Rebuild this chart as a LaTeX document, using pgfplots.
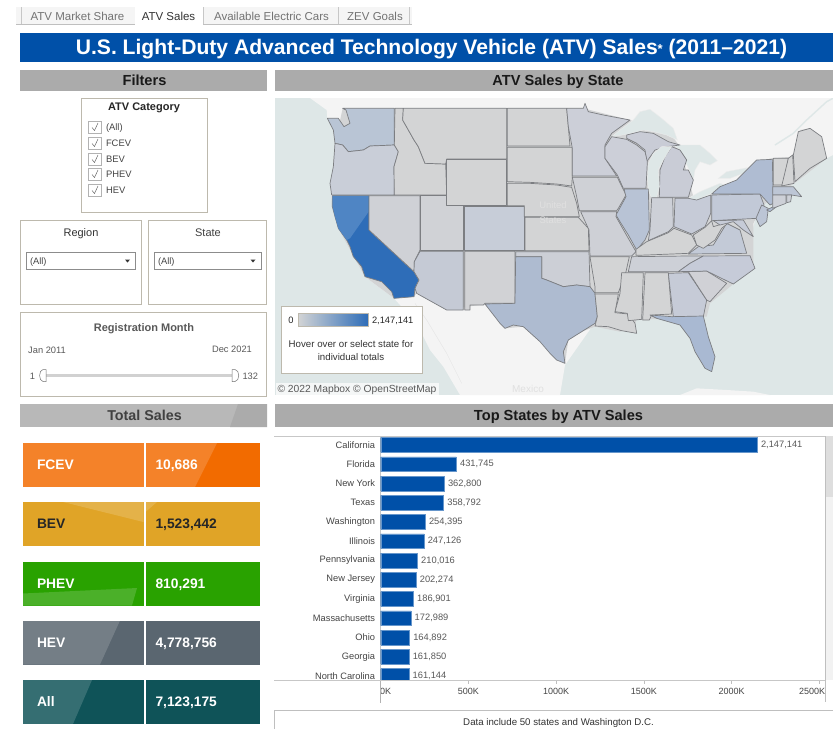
\documentclass[border=0pt]{standalone}
\usepackage{fontspec}
\setmainfont{Liberation Sans}
\usepackage{pgfplots}
\usepackage{pgfplotstable}
\pgfplotsset{compat=1.18}

\definecolor{water}{HTML}{DEE7E7}
\definecolor{land}{HTML}{F4F4F4}
\definecolor{edge}{HTML}{7C7E82}
\definecolor{base}{HTML}{D3D4D5}
\definecolor{blueend}{HTML}{2E6DB8}
\definecolor{titleblue}{HTML}{0050A8}
\definecolor{hdr}{HTML}{ABABAB}
\definecolor{boxline}{HTML}{BDB9AD}
\definecolor{txt}{HTML}{444444}

\newcommand{\fs}[1]{\fontsize{#1}{#1}\selectfont}

\pgfplotsset{
  mapaxis/.style={hide axis, scale only axis, width=558pt, height=297pt,
    at={(275pt,-98pt)}, anchor=north west, y dir=reverse, ymin=24, ymax=915},
  st/.style={/utils/exec={\definecolor{c#1}{HTML}{#1}}, fill=c#1, draw=edge, line width=0.7pt, line join=round, mark=none},
  lake/.style={fill=water, draw=white!85!gray, line width=0.4pt, mark=none},
}

\pgfplotstableread{
idx sales lab
0 2147141 2,147,141
1 431745 431,745
2 362800 362,800
3 358792 358,792
4 254395 254,395
5 247126 247,126
6 210016 210,016
7 202274 202,274
8 186901 186,901
9 172989 172,989
10 164892 164,892
11 161850 161,850
12 161144 161,144
}\topstates

\begin{document}
\begin{tikzpicture}
\useasboundingbox (0pt,0pt) rectangle (833pt,-729pt);
\fill[white] (0pt,0pt) rectangle (833pt,-729pt);
\fill[water] (275pt,-98pt) rectangle (833pt,-395pt);

% map, west half, coordinates in units of 1/3 px
\begin{axis}[mapaxis, xmin=15, xmax=1689]
\addplot[fill=land, draw=none] coordinates {(120,24) (170,60) (172,85) (190,120) (195,160) (190,230) (180,280) (187,350) (205,415) (240,470) (285,560) (372,625) (440,700) (480,780) (520,830) (570,915) (870,915) (885,825) (980,690) (1300,650) (1420,520) (1480,300) (1670,205) (1689,195) (1689,24)} --cycle;
\addplot[draw=white!80!gray, line width=0.4pt] coordinates {(435,640) (470,690) (530,790) (575,880)};
\addplot[fill=base, draw=none] coordinates {(218,55) (940,55) (1080,90) (1200,130) (1230,170) (1270,320) (1310,320) (1350,305) (1500,205) (1570,200) (1590,120) (1620,115) (1670,205) (1580,275) (1480,345) (1450,400) (1450,530) (1390,582) (1320,640) (1310,680) (1295,680) (1100,690) (1090,715) (1050,725) (975,710) (935,725) (895,750) (885,820) (810,755) (760,710) (705,715) (645,642) (530,660) (440,610) (432,620) (372,625) (285,560) (205,415) (187,317) (185,280) (195,160)} --cycle;
\addplot[st={B9C5D5}] coordinates {(218,55) (373,55) (373,165) (300,168) (280,180) (235,185) (218,165) (195,160) (190,120) (172,85) (205,85) (222,110) (240,100) (228,60)} --cycle;
\addplot[st={C9CED8}] coordinates {(195,160) (218,165) (235,185) (280,180) (300,168) (373,165) (385,185) (372,230) (373,315) (185,315) (180,280) (190,230)} --cycle;
\addplot[st={2E6DB8}] coordinates {(187,317) (297,317) (297,420) (432,545) (447,570) (435,595) (432,620) (372,625) (365,605) (335,575) (285,560) (275,530) (250,500) (240,470) (230,450) (205,415) (195,380) (187,350)} --cycle;
\addplot[st={4F85C4}, draw=none] coordinates {(188,318) (296,318) (296,365) (240,445) (230,450) (205,415) (195,380) (188,350)} --cycle;
\addplot[st={CFD1D6}] coordinates {(297,317) (450,317) (450,480) (433,515) (432,545) (297,420)} --cycle;
\addplot[st={D3D4D5}] coordinates {(375,55) (400,55) (398,90) (415,120) (432,150) (445,170) (465,220) (527,222) (530,315) (373,315) (372,230) (385,185) (373,165)} --cycle;
\addplot[st={D3D4D5}] coordinates {(400,55) (710,55) (710,207) (530,207) (527,222) (465,220) (445,170) (432,150) (415,120) (398,90)} --cycle;
\addplot[st={D3D4D5}] coordinates {(530,207) (710,207) (710,347) (530,347)} --cycle;
\addplot[st={D0D2D6}] coordinates {(452,317) (530,317) (530,347) (580,347) (580,482) (452,482)} --cycle;
\addplot[st={C7CDD8}] coordinates {(582,349) (763,349) (763,482) (582,482)} --cycle;
\addplot[st={C5CAD5}] coordinates {(450,484) (580,484) (580,660) (530,660) (440,610) (435,595) (447,570) (432,545) (433,515)} --cycle;
\addplot[st={D1D2D5}] coordinates {(584,484) (735,484) (735,640) (645,640) (640,645) (600,645) (600,660) (584,660)} --cycle;
\addplot[st={D3D4D5}] coordinates {(712,55) (890,55) (900,168) (712,168)} --cycle;
\addplot[st={D3D4D5}] coordinates {(712,172) (907,172) (907,260) (905,288) (860,282) (780,277) (712,275)} --cycle;
\addplot[st={D3D4D5}] coordinates {(712,280) (780,280) (860,285) (905,292) (920,340) (928,380) (763,380) (763,347) (712,347)} --cycle;
\addplot[st={D3D4D5}] coordinates {(765,382) (925,382) (955,415) (957,482) (765,482)} --cycle;
\addplot[st={CCCFD6}] coordinates {(737,485) (957,485) (960,590) (920,585) (880,590) (830,570) (815,565) (815,500) (737,500)} --cycle;
\addplot[st={AEBBD0}] coordinates {(737,500) (815,500) (815,565) (830,570) (880,590) (920,585) (960,590) (975,610) (982,680) (975,700) (935,725) (895,750) (880,785) (885,820) (860,810) (840,790) (810,755) (760,710) (730,705) (705,715) (690,700) (645,642) (735,640)} --cycle;
\end{axis}

% map, east half, same scale and shifted by 810 units
\begin{axis}[mapaxis, xmin=-795, xmax=879]
\addplot[draw=water, line width=1.4pt] coordinates {(705,165) (760,130) (800,90) (860,35) (879,25)};
\addplot[fill=land, draw=none] coordinates {(420,915) (470,895) (560,900) (640,905) (690,915)} --cycle;
\addplot[lake] coordinates {(215,140) (240,120) (280,90) (300,65) (330,58) (365,85) (400,115) (412,150) (380,135) (340,125) (310,120) (265,132)} --cycle;
\addplot[lake] coordinates {(400,165) (440,165) (480,165) (510,190) (532,212) (510,225) (480,215) (465,240) (460,270) (445,235) (420,180)} --cycle;
\addplot[lake] coordinates {(445,325) (480,305) (540,280) (555,285) (515,310) (465,332)} --cycle;
\addplot[lake] coordinates {(535,265) (560,245) (622,233) (615,248) (570,265)} --cycle;
\addplot[st={C9CCD6}] coordinates {(260,135) (300,125) (340,130) (385,155) (420,165) (380,170) (345,180) (320,215) (315,180) (290,160) (260,145)} --cycle;
\addplot[st={C9CCD6}] coordinates {(358,322) (360,240) (375,200) (395,170) (420,180) (440,210) (430,240) (445,240) (460,270) (445,322)} --cycle;
\addplot[lake] coordinates {(325,220) (340,190) (365,170) (395,170) (385,185) (370,210) (355,240) (358,290) (350,322) (335,325) (325,300) (322,260)} --cycle;
\addplot[st={CCCFD8}] coordinates {(80,55) (130,55) (135,40) (145,65) (190,75) (270,90) (215,130) (195,165) (195,205) (230,258) (97,258) (97,175) (85,110)} --cycle;
\addplot[st={CFD1D6}] coordinates {(97,262) (232,262) (258,315) (235,355) (230,362) (118,362) (110,320)} --cycle;
\addplot[st={CCCFD8}] coordinates {(195,170) (215,140) (260,148) (290,165) (315,185) (322,215) (318,295) (250,295) (232,255) (195,205)} --cycle;
\addplot[st={B8C3D5}] coordinates {(252,297) (325,297) (328,420) (315,450) (290,480) (265,435) (240,395) (228,375) (258,320)} --cycle;
\addplot[st={CDD0D7}] coordinates {(335,323) (398,323) (400,410) (385,425) (325,452) (330,420)} --cycle;
\addplot[st={C6CBD7}] coordinates {(405,325) (445,325) (470,330) (512,315) (512,370) (495,410) (455,432) (402,410)} --cycle;
\addplot[st={CED0D6}] coordinates {(122,365) (230,365) (228,380) (262,440) (288,485) (275,498) (150,498) (147,420)} --cycle;
\addplot[st={D3D4D5}] coordinates {(288,478) (320,455) (385,428) (402,415) (455,435) (470,465) (445,490) (320,495) (288,496)} --cycle;
\addplot[st={CDD0D7}] coordinates {(275,500) (445,498) (490,498) (450,520) (415,545) (265,545)} --cycle;
\addplot[st={D3D4D5}] coordinates {(150,500) (268,500) (258,545) (235,608) (165,608) (165,590)} --cycle;
\addplot[st={D3D4D5}] coordinates {(165,612) (235,612) (225,668) (265,672) (285,700) (290,730) (245,722) (205,710) (165,708) (172,680)} --cycle;
\addplot[st={D3D4D5}] coordinates {(245,548) (310,548) (305,688) (265,692) (262,670) (225,665) (240,610)} --cycle;
\addplot[st={D3D4D5}] coordinates {(315,548) (385,548) (395,672) (335,675) (328,690) (308,690)} --cycle;
\addplot[st={C6CBD7}] coordinates {(385,550) (445,548) (500,630) (490,680) (400,680)} --cycle;
\addplot[st={D0D1D6}] coordinates {(445,545) (500,543) (560,580) (510,635) (500,630)} --cycle;
\addplot[st={C6CBD8}] coordinates {(415,545) (450,520) (490,498) (630,497) (645,535) (580,582) (555,570) (500,543)} --cycle;
\addplot[st={C3CAD7}] coordinates {(445,492) (475,470) (520,465) (560,400) (600,420) (620,490)} --cycle;
\addplot[st={D3D4D5}] coordinates {(460,435) (495,412) (515,392) (520,410) (570,395) (545,415) (525,450) (490,475) (470,465)} --cycle;
\addplot[st={C6CBD7}] coordinates {(520,392) (610,390) (640,440) (610,420) (580,395) (540,405)} --cycle;
\addplot[st={C2C9D7}] coordinates {(515,315) (660,312) (672,345) (660,375) (650,385) (515,392)} --cycle;
\addplot[st={BCC5D5}] coordinates {(665,345) (685,355) (680,395) (660,410) (648,385)} --cycle;
\addplot[st={AFBCD2}] coordinates {(540,290) (590,270) (620,240) (650,210) (697,208) (700,340) (690,345) (660,312) (515,312)} --cycle;
\addplot[st={AFBCD2}] coordinates {(680,360) (730,335) (690,365)} --cycle;
\addplot[st={D3D4D5}] coordinates {(700,205) (745,205) (730,285) (700,285)} --cycle;
\addplot[st={D3D4D5}] coordinates {(745,205) (758,195) (762,280) (725,288)} --cycle;
\addplot[st={D3D4D5}] coordinates {(760,195) (775,125) (810,115) (845,140) (860,205) (810,235) (765,275)} --cycle;
\addplot[st={BDC6D5}] coordinates {(698,290) (760,290) (785,320) (755,315) (698,315)} --cycle;
\addplot[st={CDD0D7}] coordinates {(698,315) (738,315) (738,340) (698,355)} --cycle;
\addplot[st={CDD0D7}] coordinates {(740,315) (755,315) (752,335) (740,338)} --cycle;
\addplot[st={A9B9D2}] coordinates {(330,675) (395,680) (490,678) (505,740) (525,800) (515,845) (495,835) (465,785) (450,745) (420,705) (385,695) (350,685)} --cycle;
\end{axis}

% bar chart
\begin{axis}[
  scale only axis, width=444.3pt, height=244.7pt,
  at={(380.7pt,-436pt)}, anchor=north west,
  xbar, bar width=14.7pt, y dir=reverse,
  xmin=0, xmax=2533000, ymin=-0.4675, ymax=12.244,
  ytick=data,
  yticklabels={California,Florida,New York,Texas,Washington,Illinois,Pennsylvania,New Jersey,Virginia,Massachusetts,Ohio,Georgia,North Carolina},
  xtick={0,500000,1000000,1500000,2000000,2500000},
  xticklabels={\hspace{10pt}0K,500K,1000K,1500K,2000K,\hbox to 40pt{2500K\hss}},
  scaled x ticks=false,
  axis x line*=bottom, axis y line*=left,
  axis line style={draw=black!22, line width=0.7pt},
  y tick style={draw=none},
  x tick style={draw=black!25, line width=0.5pt},
  major tick length=3pt, tick align=outside,
  y tick label style={font=\fs{9.3}, text=txt, inner sep=0pt, xshift=-2.5pt},
  x tick label style={font=\fs{9}, text=txt, inner sep=0pt, yshift=-4.5pt},
  point meta=explicit symbolic,
  nodes near coords,
  nodes near coords align=horizontal,
  every node near coord/.append style={font=\fs{9.3}, text=black!65, inner sep=0pt, anchor=west, xshift=3.5pt},
]
\addplot[fill=titleblue, draw=titleblue!60!white, line width=0.4pt] table[x=sales, y=idx, meta=lab] {\topstates};
\end{axis}

\begin{scope}[x=1pt, y=-1pt, every node/.style={inner sep=0pt, outer sep=0pt, anchor=base}]
% tabs
\fill[black!4] (16,7) rectangle (412,24);
\draw[black!25] (16,24) -- (412,24);
\foreach \xx in {21,135,203,338,409} \draw[black!22] (\xx,7) -- (\xx,24);
\fill[white] (135,7) rectangle (203,24.5);
\node[text=black!55, font=\fs{11.5}] at (77.5,20) {ATV Market Share};
\node[text=black!80, font=\fs{11.5}] at (168.5,20) {ATV Sales};
\node[text=black!55, font=\fs{11.5}] at (271.5,20) {Available Electric Cars};
\node[text=black!55, font=\fs{11.5}] at (375,20) {ZEV Goals};

% title and section headers
\fill[titleblue] (20,33) rectangle (833,62);
\node[text=white, font=\fs{21.1}\bfseries] at (431.5,54.5) {U.S. Light-Duty Advanced Technology Vehicle (ATV) Sales\raisebox{1pt}{\fs{13}*} (2011–2021)};
\fill[hdr] (20,70) rectangle (267,91);
\fill[hdr] (275,70) rectangle (833,91);
\fill[black!28] (20,404) rectangle (267,427);
\fill[hdr] (230,427) -- (238,404) -- (267,404) -- (267,427) -- cycle;
\fill[hdr] (275,404) rectangle (833,427);
\node[text=black!90, font=\fs{14.6}\bfseries] at (144.5,85) {Filters};
\node[text=black!90, font=\fs{14.6}\bfseries] at (558,85) {ATV Sales by State};
\node[text=black!75, font=\fs{14.3}\bfseries] at (144.5,420) {Total Sales};
\node[text=black!90, font=\fs{14.6}\bfseries] at (558.5,420) {Top States by ATV Sales};

% filter: category
\draw[boxline, fill=white] (81,98) rectangle (207,212);
\node[font=\fs{11}\bfseries, text=black!85] at (144,110) {ATV Category};
\foreach \yy/\lb in {127/(All),143/FCEV,159/BEV,174/PHEV,190/HEV}{
  \draw[black!30, line width=0.7pt, fill=white] (88.5,\yy-6) rectangle (101,\yy+6.5);
  \draw[black!60, line width=0.5pt] (92,\yy+0.5) -- (94.5,\yy+3.5) -- (98,\yy-4);
  \node[anchor=base west, font=\fs{9.4}, text=txt] at (106,\yy+3.3) {\lb};
}

% filter: region and state
\draw[boxline, line width=0.7pt] (20.5,220) rectangle (141,304);
\draw[boxline, line width=0.7pt] (148.5,220) rectangle (266.5,304);
\node[font=\fs{11}, text=black!80] at (81,236.5) {Region};
\node[font=\fs{11}, text=black!75] at (208,236.5) {State};
\draw[black!45, fill=white] (26.5,252) rectangle (135.5,269.5);
\draw[black!45, fill=white] (154,252) rectangle (261.5,269.5);
\node[anchor=base west, font=\fs{9.3}, text=txt] at (30,264) {(All)};
\node[anchor=base west, font=\fs{9.3}, text=txt] at (158,264) {(All)};
\fill[black!80] (125,259.5) -- (130,259.5) -- (127.5,262.5) -- cycle;
\fill[black!80] (250.5,259.5) -- (255.5,259.5) -- (253,262.5) -- cycle;

% filter: month slider
\draw[boxline, line width=0.7pt] (20.5,312) rectangle (266.5,396);
\node[font=\fs{11}\bfseries, text=black!65] at (144,331.5) {Registration Month};
\node[font=\fs{9.3}, text=black!65] at (47,353.5) {Jan 2011};
\node[font=\fs{9.3}, text=black!65] at (232,352.5) {Dec 2021};
\fill[black!18] (45,374) rectangle (233,376.5);
\node[font=\fs{9.3}, text=black!65] at (32.5,379) {1};
\node[font=\fs{9.3}, text=black!65, anchor=base west] at (242.5,379) {132};
\draw[black!55, fill=white, line width=0.5pt] (46,369.5) -- (43,369.5) .. controls (38.5,370) and (38.5,381) .. (43,381.5) -- (46,381.5) -- cycle;
\draw[black!55, fill=white, line width=0.5pt] (232,369.5) -- (235,369.5) .. controls (240,370) and (240,381) .. (235,381.5) -- (232,381.5) -- cycle;

% total sales cards
\foreach \yt/\bc in {443/F26B00, 502/E0A427, 561.5/29A200, 620.5/5A6670, 680/0F5358}{
  \definecolor{cardcol}{HTML}{\bc}
  \fill[cardcol] (23,\yt) rectangle (143.5,\yt+44);
  \fill[cardcol] (145.5,\yt) rectangle (259.5,\yt+44);
}
\fill[white, opacity=0.16] (23,443) rectangle (143.5,487);
\fill[white, opacity=0.16] (145.5,443) -- (217,443) -- (195,487) -- (145.5,487) -- cycle;
\fill[white, opacity=0.16] (63,502) -- (143.5,522) -- (143.5,502) -- cycle;
\fill[white, opacity=0.16] (145.5,512) -- (157,502) -- (145.5,502) -- cycle;
\fill[white, opacity=0.16] (23,593.5) -- (137,588) -- (132,605.5) -- (23,605.5) -- cycle;
\fill[white, opacity=0.16] (23,620.5) -- (120,620.5) -- (100,664.5) -- (23,664.5) -- cycle;
\fill[white, opacity=0.16] (23,680) -- (92,680) -- (73,724) -- (23,724) -- cycle;
\foreach \yt/\lb/\val/\tc in {443/FCEV/10{,}686/white, 502/BEV/1{,}523{,}442/black!85, 561.5/PHEV/810{,}291/white, 620.5/HEV/4{,}778{,}756/white, 680/All/7{,}123{,}175/white}{
  \node[anchor=base west, font=\fs{13.8}\bfseries, text=\tc] at (37,\yt+26.5) {\lb};
  \node[anchor=base west, font=\fs{13.8}\bfseries, text=\tc] at (155.5,\yt+26.5) {\val};
}

% map legend and credits
\draw[boxline, fill=white, line width=0.7pt] (281.5,306) rectangle (422,373);
\draw[boxline, left color=base, right color=blueend, line width=0.7pt] (298,313.5) rectangle (368,326);
\node[font=\fs{9.3}, text=black!85] at (291,323) {0};
\node[anchor=base west, font=\fs{9.3}, text=black!85] at (372,323) {2,147,141};
\node[font=\fs{9.7}, text=black!80] at (351,347.5) {Hover over or select state for};
\node[font=\fs{9.7}, text=black!80] at (351,360.5) {individual totals};
\fill[white, opacity=0.7] (276,383) rectangle (439,394.5);
\node[anchor=base west, font=\fs{10.3}, text=black!65] at (277.5,392.5) {© 2022 Mapbox  © OpenStreetMap};
\node[font=\fs{9.5}, text=black!12] at (553,208.5) {United};
\node[font=\fs{9.5}, text=black!12] at (553,223.5) {States};
\node[font=\fs{10}, text=black!12] at (528,392) {Mexico};

% extra rules of the bar chart
\draw[black!22, line width=0.7pt] (274,436) -- (825,436);
\draw[black!22, line width=0.7pt] (274,680.7) -- (825,680.7);
\draw[black!30, line width=0.5pt] (380.7,680.7) -- (380.7,703);
\draw[black!25, line width=0.5pt] (825,436) -- (825,702);
\fill[black!5] (826,436) rectangle (833,680);
\fill[black!13] (826,436) rectangle (833,497);
\draw[black!25, line width=0.7pt] (274.5,729) -- (274.5,710.5) -- (833,710.5);
\node[font=\fs{9.7}, text=black!80] at (558.5,725.5) {Data include 50 states and Washington D.C.};
\end{scope}
\end{tikzpicture}
\end{document}
